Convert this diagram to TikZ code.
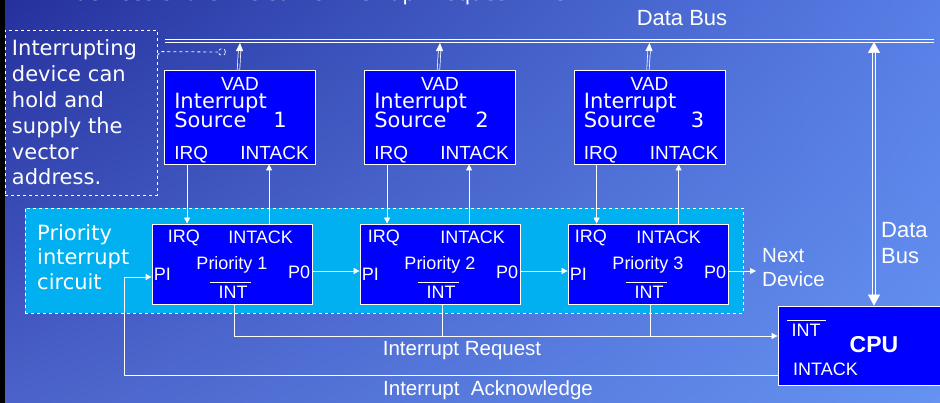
\documentclass[tikz,border=0pt]{standalone}
\usepackage{fontspec}
\setmainfont{Liberation Sans}
\newfontfamily\comicfont{DejaVu Sans}
\usetikzlibrary{arrows.meta,shadings}

\definecolor{vadblue}{HTML}{0000FF}
\definecolor{circcyan}{HTML}{00B0F0}
\definecolor{bgul}{HTML}{25309D}
\definecolor{bgur}{HTML}{587FE6}
\definecolor{bgll}{HTML}{4A62C9}
\definecolor{bglr}{HTML}{6593F2}

\tikzset{
  wline/.style={draw=white, line width=0.8pt},
  warrow/.style={wline, -{Triangle[length=6pt,width=6pt]}},
  dblarrow/.style={draw=white, line width=0.7pt, double=#1, double distance=1.8pt},
  blk/.style={draw=white, fill=vadblue, line width=0.8pt, inner sep=0pt},
  txt/.style={text=white, inner sep=0pt, font=\fontsize{#1}{#1}\selectfont},
  txt/.default=19,
  ctxt/.style={text=white, inner sep=0pt, font=\comicfont\fontsize{#1}{#1}\selectfont},
  ctxt/.default=21,
}

\begin{document}
\begin{tikzpicture}[x=1pt, y=-1pt]
  \useasboundingbox (0,0) rectangle (940,403);
  \clip (0,0) rectangle (940,403);
  \shade[upper left=bgul, upper right=bgur, lower left=bgll, lower right=bglr] (0,0) rectangle (940,403);
  \fill[black] (0,0) rectangle (5,403);
  \node[ctxt, anchor=base west] (title) at (42,1) {All devices share the same Interrupt Request Line.};

  % data bus
  \coordinate (busl) at (165,40.5);
  \coordinate (busr) at (934,40.5);
  \foreach \d in {-1.5,1.5}
    \draw[wline] ([yshift=\d pt]busl) -- ([yshift=\d pt]busr);
  \node[txt=22] (dbus) at (682,18) {Data Bus};

  % left note
  \node[draw=white, dashed, line width=0.8pt, minimum width=152pt, minimum height=165pt, text width=138pt,
        inner sep=0pt, align=left, text=white, font=\comicfont\fontsize{21}{25.8}\selectfont]
        (note) at (81,112.5) {Interrupting\\device can\\hold and\\supply the\\vector\\address.};
  \node[circle, draw=white, dashed, line width=0.7pt, minimum size=7pt, inner sep=0pt] (ring) at (222,52) {};
  \draw[wline, dashed] ([yshift=-26pt]note.north east) -- ++(3,-4) -- (ring.west);

  % priority interrupt circuit
  \node[draw=white, dashed, fill=circcyan, line width=0.8pt, minimum width=718pt, minimum height=105pt]
        (circ) at (384,260.5) {};
  \node[anchor=west, align=left, inner sep=0pt, text=white, font=\comicfont\fontsize{21}{24.5}\selectfont]
        (circtxt) at (37,257) {Priority\\interrupt\\circuit};

  % interrupt sources
  \foreach \i/\x/\n in {1/240/116, 2/440/118, 3/649.5/124}{
    \node[blk, minimum width=151pt, minimum height=94pt] (vad\i) at (\x,117) {};
    \node[txt] (vadname\i) at ([yshift=-14pt]vad\i.north) {VAD};
    \node[ctxt, anchor=base west] (vadint\i) at ([xshift=10pt,yshift=-39pt]vad\i.north west) {Interrupt};
    \node[ctxt, anchor=base west] (vadsrc\i) at ([xshift=10pt,yshift=-58pt]vad\i.north west) {Source};
    \node[ctxt, anchor=base] (vadnum\i) at ([xshift=\n pt,yshift=-58pt]vad\i.north west) {\i};
    \node[txt, anchor=base west] (vadirq\i) at ([xshift=10pt,yshift=5pt]vad\i.south west) {IRQ};
    \node[txt, anchor=base east] (vadack\i) at ([xshift=-7pt,yshift=5pt]vad\i.south east) {INTACK};
  }
  \foreach \i/\c in {1/364AB5, 2/415AC3, 3/4B6BD2}{
    \definecolor{gap}{HTML}{\c}
    \draw[dblarrow=gap, -{Triangle[length=8pt,width=7pt]}] ([xshift=-1.5pt]vad\i.north) -- ([yshift=-2.5pt]vad\i.north |- busl);
  }

  % priority blocks
  \foreach \i/\x/\q/\k in {1/232/16/109, 2/440/8/113, 3/648/7/101}{
    \node[blk, minimum width=160pt, minimum height=80pt] (pri\i) at (\x,264) {};
    \node[txt=18, anchor=west] (priirq\i) at ([xshift=\q pt,yshift=-14pt]pri\i.north west) {IRQ};
    \node[txt=18] (priack\i) at ([xshift=\k pt,yshift=-14pt]pri\i.north west) {INTACK};
    \node[txt=18] (prilbl\i) at ([yshift=-1pt]pri\i.center) {Priority \i};
    \node[txt=18] (priint\i) at ([xshift=1pt,yshift=-28pt]pri\i.center) {INT};
    \draw[wline] ([xshift=-8pt,yshift=3.5pt]priint\i.north west) -- ([xshift=3pt,yshift=3.5pt]priint\i.north east);
    \node[txt=18, anchor=west] (pripi\i) at ([xshift=2pt,yshift=-10pt]pri\i.west) {PI};
    \node[txt=18, anchor=east] (pripo\i) at ([xshift=-2pt,yshift=-8pt]pri\i.east) {P0};
    \draw[warrow] ([xshift=23pt]vad\i.south west) -- ([xshift=23pt]vad\i.south west |- pri\i.north);
    \draw[warrow] ([xshift=105pt]vad\i.south west |- pri\i.north) -- ([xshift=105pt]vad\i.south west);
  }
  \draw[warrow] ([yshift=-7pt]pri1.east) -- ([yshift=-7pt]pri2.west);
  \draw[warrow] ([yshift=-7pt]pri2.east) -- ([yshift=-7pt]pri3.west);
  \coordinate (next) at (756,271);
  \draw[warrow] ([yshift=-7pt]pri3.east) -- (next);
  \node[anchor=west, align=left, inner sep=0pt, text=white, font=\fontsize{20.5}{24}\selectfont]
        (nexttxt) at (762,267.5) {Next\\Device};

  % cpu
  \node[blk, minimum width=170pt, minimum height=79pt] (cpu) at (863,345.5) {};
  \node[txt=23, font=\bfseries\fontsize{23}{23}\selectfont] (cputxt) at (874,345) {CPU};
  \node[txt=18] (cpuint) at (806,330) {INT};
  \draw[wline] ([xshift=-4pt,yshift=3.5pt]cpuint.north west) -- ([xshift=5pt,yshift=3.5pt]cpuint.north east);
  \node[txt=18, anchor=west] (cpuack) at (793,369) {INTACK};

  % request and acknowledge lines
  \coordinate (req) at ([yshift=9.5pt]cpu.west);
  \draw[warrow] ([xshift=2pt]pri1.south) |- (req);
  \foreach \i in {2,3}
    \draw[wline] ([xshift=2pt]pri\i.south) -- ([xshift=2pt]pri\i.south |- req);
  \coordinate (ack) at ([yshift=-13pt]pri1.west);
  \draw[warrow] ([yshift=-29.5pt]cpu.west) -| ([xshift=-27pt]ack) -- (ack);
  \node[txt=20.5] (reqtxt) at (462,351) {Interrupt Request};
  \node[txt=20.5] (acktxt) at (488,390) {Interrupt\ \ Acknowledge};

  % data bus to cpu
  \coordinate (dbtop) at (874,42);
  \definecolor{gap}{HTML}{5A83E7}
  \draw[dblarrow=gap, {Triangle[length=11pt,width=12pt]}-{Triangle[length=11pt,width=12pt]}] (dbtop) -- (dbtop |- cpu.north);
  \node[anchor=west, align=left, inner sep=0pt, text=white, font=\fontsize{22}{26}\selectfont]
        (dbustxt) at (881,243) {Data\\Bus};
\end{tikzpicture}
\end{document}
